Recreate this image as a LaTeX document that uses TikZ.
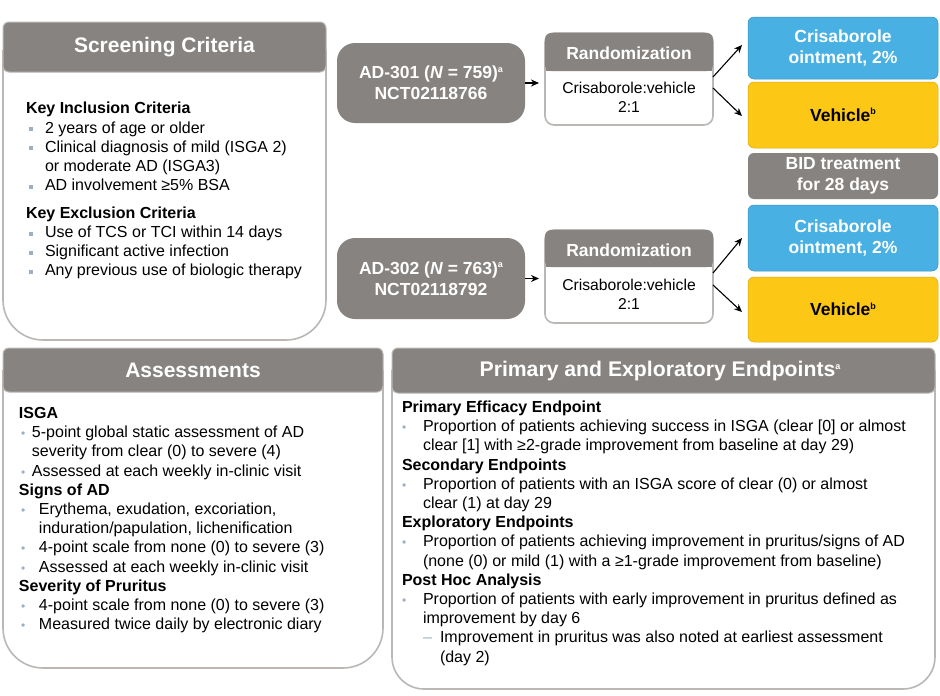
\documentclass[tikz,border=0pt]{standalone}
\usepackage{fontspec}
\setmainfont{Liberation Sans}
\usetikzlibrary{arrows.meta,calc}
\definecolor{hdr}{RGB}{135,131,128}
\definecolor{bord}{RGB}{186,183,181}
\definecolor{cblue}{RGB}{72,176,226}
\definecolor{cyel}{RGB}{252,200,21}
\definecolor{bul}{RGB}{158,174,196}
\newcommand\bodyfs{\fontsize{16}{19.2}\selectfont}
\newcommand\sqb{\textcolor{bul}{\rule[2pt]{4pt}{4pt}}}
\newcommand\dtb{\textcolor{bul}{{\fontsize{12}{12}\selectfont •}}}
\newcommand\sqi[1]{\par\noindent\makebox[19pt][l]{\hspace*{3pt}\sqb}#1}
\newcommand\contl[2]{\par\noindent\hspace*{#1}#2}
\newcommand\dti[3]{\par\noindent\makebox[#1][l]{\hspace*{#2}\dtb}#3}
\newcommand\hd[1]{\par\noindent\textbf{#1}}
\newcommand\supa[1]{\raisebox{6.5pt}{\fontsize{9}{9}\selectfont #1}}
\begin{document}
\begin{tikzpicture}[x=1pt,y=-1pt,
  txt/.style={inner sep=0pt,outer sep=0pt},
  bx/.style={draw=bord,line width=1.6pt,fill=white},
  hdrnode/.style={draw=bord,line width=1pt,fill=hdr,rounded corners=6pt,inner sep=0pt,outer sep=0pt,
    text=white,font=\fontsize{21}{24}\selectfont\bfseries},
  hdrtxt/.style={inner sep=0pt,outer sep=0pt,text=white,font=\fontsize{21.2}{24}\selectfont\bfseries},
  adbox/.style={fill=hdr,rounded corners=18pt,minimum width=188pt,inner sep=0pt,outer sep=0pt,
    text=white,align=center,font=\fontsize{17.5}{21}\selectfont\bfseries},
  randbox/.style={draw=bord,line width=1.6pt,fill=white,rounded corners=9pt,minimum width=168pt,
    inner sep=0pt,outer sep=0pt},
  randhdr/.style={fill=hdr,rounded corners=6pt,minimum width=168pt,minimum height=38pt,inner sep=0pt,
    outer sep=0pt,text=white,font=\fontsize{17.5}{21}\selectfont\bfseries},
  randtxt/.style={inner sep=0pt,outer sep=0pt,align=center,font=\fontsize{15.7}{19}\selectfont},
  armbox/.style={rounded corners=6pt,minimum width=190pt,inner sep=0pt,outer sep=0pt,align=center,
    font=\fontsize{17.5}{21.5}\selectfont\bfseries},
  bluebox/.style={armbox,fill=cblue,draw=cblue!85!black,line width=0.5pt,text=white},
  yelbox/.style={armbox,fill=cyel,draw=cyel!85!black,line width=0.5pt,text=black},
  bidbox/.style={armbox,fill=hdr,text=white},
  arr/.style={-{Stealth[length=8pt,width=7pt]},line width=1.1pt,black}]
\useasboundingbox (0,0) rectangle (940,696);
\fill[white] (0,0) rectangle (940,696);

% ---------- Screening criteria ----------
\draw[bx] (3,50) [rounded corners=40pt] -- (3,340) -- (326,340) -- (326,50);
\node[hdrnode,minimum width=323pt,minimum height=50pt] (scrh) at (164.5,47) {Screening Criteria};
\node[txt,anchor=base west] (scrt) at (26,113.8) {\parbox[t]{298pt}{\bodyfs
\hd{Key Inclusion Criteria}
\sqi{2 years of age or older}
\sqi{Clinical diagnosis of mild (ISGA 2)}
\contl{19pt}{or moderate AD (ISGA3)}
\sqi{AD involvement ≥5\% BSA}
\par\vspace{8.5pt}
\hd{Key Exclusion Criteria}
\sqi{Use of TCS or TCI within 14 days}
\sqi{Significant active infection}
\sqi{Any previous use of biologic therapy}}};

% ---------- Study flow ----------
\node[adbox,minimum height=80pt] (ad1) at (431,83) {AD-301 (\textit{N} = 759)\supa{a}\\NCT02118766};
\node[adbox,minimum height=81pt] (ad2) at (431,278.5) {AD-302 (\textit{N} = 763)\supa{a}\\NCT02118792};

\node[randbox,minimum height=92pt] (rand1) at (629,79) {};
\node[randhdr] (rh1) at (629,52) {};
\fill[hdr] (545.8,58) rectangle (712.2,71);
\node[txt,text=white,font=\fontsize{17.5}{21}\selectfont\bfseries] (rl1) at (629,53) {Randomization};
\node[randtxt] (rt1) at (629,97.5) {Crisaborole:vehicle\\2:1};

\node[randbox,minimum height=93pt] (rand2) at (629,276.5) {};
\node[randhdr,minimum height=37pt] (rh2) at (629,248.5) {};
\fill[hdr] (545.8,255) rectangle (712.2,267);
\node[txt,text=white,font=\fontsize{17.5}{21}\selectfont\bfseries] (rl2) at (629,250) {Randomization};
\node[randtxt] (rt2) at (629,294.5) {Crisaborole:vehicle\\2:1};

\node[bluebox,minimum height=62pt] (b1) at (843,48) {Crisaborole\\ointment, 2\%};
\node[yelbox,minimum height=66pt] (v1) at (843,115) {Vehicle\supa{b}};
\node[bidbox,minimum height=46pt] (bid) at (843,176) {BID treatment\\for 28 days};
\node[bluebox,minimum height=66pt] (b2) at (843,238) {Crisaborole\\ointment, 2\%};
\node[yelbox,minimum height=65pt] (v2) at (843,309.5) {Vehicle\supa{b}};

\draw[arr] (ad1.east) -- ([xshift=-6pt]ad1.east -| rand1.west);
\draw[arr] (ad2.east) -- ([xshift=-6pt]ad2.east -| rand2.west);
\draw[arr] ([yshift=2pt]rand1.east) -- ([xshift=-6pt,yshift=3pt]b1.west);
\draw[arr] ([yshift=-9pt]rand1.east) -- ([xshift=-6pt,yshift=-1pt]v1.west);
\draw[arr] ([yshift=3.5pt]rand2.east) -- ([xshift=-6pt]b2.west);
\draw[arr] ([yshift=-8.5pt]rand2.east) -- ([xshift=-6pt,yshift=-2.5pt]v2.west);

% ---------- Assessments ----------
\draw[bx] (3,370) [rounded corners=40pt] -- (3,668) -- (383,668) -- (383,370);
\node[hdrnode,minimum width=380pt,minimum height=44pt] (assh) at (193,370) {Assessments};
\node[txt,anchor=base west] (asst) at (19,418.5) {\parbox[t]{360pt}{\bodyfs
\hd{ISGA}
\dti{13pt}{2pt}{5-point global static assessment of AD}
\contl{13pt}{severity from clear (0) to severe (4)}
\dti{13pt}{2pt}{Assessed at each weekly in-clinic visit}
\hd{Signs of AD}
\dti{20pt}{2pt}{Erythema, exudation, excoriation,}
\contl{20pt}{induration/papulation, lichenification}
\dti{20pt}{2pt}{4-point scale from none (0) to severe (3)}
\dti{20pt}{2pt}{Assessed at each weekly in-clinic visit}
\hd{Severity of Pruritus}
\dti{20pt}{2pt}{4-point scale from none (0) to severe (3)}
\dti{20pt}{2pt}{Measured twice daily by electronic diary}}};

% ---------- Endpoints ----------
\draw[bx] (392,370) [rounded corners=32pt] -- (392,689) -- (935,689) -- (935,370);
\node[hdrnode,minimum width=543pt,minimum height=45pt] (eph) at (663.5,370.5) {};
\node[hdrtxt] (ept) at (660,371) {Primary and Exploratory Endpoints\supa{a}};
\node[txt,anchor=base west] (ept2) at (402,412.5) {\parbox[t]{525pt}{\bodyfs
\hd{Primary Efficacy Endpoint}
\dti{21pt}{0pt}{Proportion of patients achieving success in ISGA (clear [0] or almost}
\contl{21pt}{clear [1] with ≥2-grade improvement from baseline at day 29)}
\hd{Secondary Endpoints}
\dti{21pt}{0pt}{Proportion of patients with an ISGA score of clear (0) or almost}
\contl{21pt}{clear (1) at day 29}
\hd{Exploratory Endpoints}
\dti{21pt}{0pt}{Proportion of patients achieving improvement in pruritus/signs of AD}
\contl{21pt}{(none (0) or mild (1) with a ≥1-grade improvement from baseline)}
\hd{Post Hoc Analysis}
\dti{21pt}{0pt}{Proportion of patients with early improvement in pruritus defined as}
\contl{21pt}{improvement by day 6}
\par\noindent\hspace*{21pt}\makebox[17pt][l]{\textcolor{bul}{–}}Improvement in pruritus was also noted at earliest assessment
\contl{38pt}{(day 2)}}};
\end{tikzpicture}
\end{document}
